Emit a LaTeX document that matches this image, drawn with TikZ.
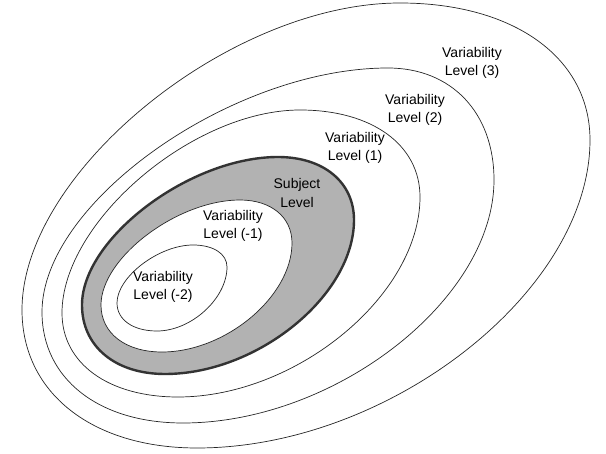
\documentclass[tikz,border=0pt]{standalone}
\usepackage{fontspec}
\setmainfont{Liberation Sans}

\begin{document}
\begin{tikzpicture}[x=1pt, y=-1pt,
    ring/.style={draw=black!85, line width=0.7pt},
    tag/.style={align=center, inner sep=0pt, font=\fontsize{14}{18.5}\selectfont}]
    \useasboundingbox (0,0) rectangle (606,454);

    % Outer levels
    \draw[ring] (22,310) .. controls (22,171.8) and (229.9,3) .. (400,3)
                         .. controls (514,3) and (590,57.8) .. (590,140)
                         .. controls (590,290.9) and (389.6,448) .. (197,448)
                         .. controls (92,448) and (22,392.8) .. cycle;
    \draw[ring] (42,312) .. controls (42,202.2) and (232.3,68) .. (388,68)
                         .. controls (451.6,68) and (494,112.8) .. (494,180)
                         .. controls (494,299.1) and (335.4,423) .. (183,423)
                         .. controls (98.4,423) and (42,378.6) .. cycle;
    \draw[ring] (62,313) .. controls (62,221.7) and (192.9,110) .. (300,110)
                         .. controls (372,110) and (420,144.8) .. (420,197)
                         .. controls (420,295) and (296.6,397) .. (178,397)
                         .. controls (108.4,397) and (62,363.4) .. cycle;

    % Subject level
    \draw[line width=2.4pt, draw=black!80, fill=black!30]
        (82,305) .. controls (82,238.4) and (189.8,157) .. (278,157)
                 .. controls (323.6,157) and (354,182.2) .. (354,220)
                 .. controls (354,295.5) and (257.6,374) .. (165,374)
                 .. controls (115.2,374) and (82,346.4) .. cycle;

    % Inner levels
    \draw[ring, fill=white]
        (101,305) .. controls (101,257.75) and (177.45,200) .. (240,200)
                  .. controls (271.2,200) and (292,217.2) .. (292,243)
                  .. controls (292,296.4) and (225.7,352) .. (162,352)
                  .. controls (125.4,352) and (101,333.2) .. cycle;
    \draw[ring]
        (117,303) .. controls (117,276.9) and (158.8,245) .. (193,245)
                  .. controls (213.4,245) and (227,253.8) .. (227,267)
                  .. controls (227,298.4) and (191.3,331) .. (157,331)
                  .. controls (133,331) and (117,319.8) .. cycle;

    % Labels
    \node[tag] (lvl3) at (472,63) {Variability\\Level (3)};
    \node[tag] (lvl2) at (415,110) {Variability\\Level (2)};
    \node[tag] (lvl1) at (355,148) {Variability\\Level (1)};
    \node[tag] (subj) at (297,193) {Subject\\Level};
    \node[tag] (lvlm1) at (233,226) {Variability\\Level (-1)};
    \node[tag] (lvlm2) at (163,287) {Variability\\Level (-2)};
\end{tikzpicture}
\end{document}
